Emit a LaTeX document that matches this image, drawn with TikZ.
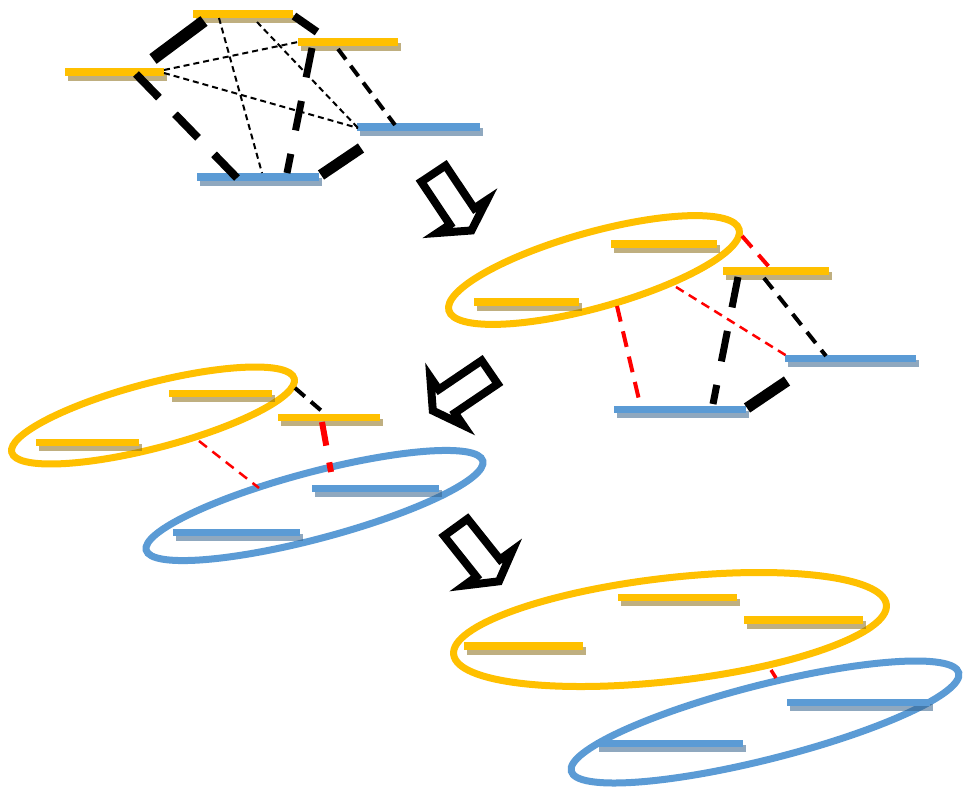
\documentclass[tikz,border=0pt]{standalone}
\usetikzlibrary{shadows}

\definecolor{barorange}{RGB}{255,192,0}
\definecolor{barblue}{RGB}{91,155,213}
\definecolor{shadeorange}{RGB}{140,111,24}
\definecolor{shadeblue}{RGB}{51,97,140}
\definecolor{linkred}{RGB}{255,0,0}

\tikzset{
  levelbar/.style={inner sep=0pt, minimum height=7.5pt, anchor=west, draw=none},
  obar/.style={levelbar, fill=barorange,
    drop shadow={shadow xshift=3pt, shadow yshift=-5pt, fill=shadeorange, opacity=0.55}},
  bbar/.style={levelbar, fill=barblue,
    drop shadow={shadow xshift=3pt, shadow yshift=-5pt, fill=shadeblue, opacity=0.55}},
  oring/.style={draw=barorange, line width=7pt},
  bring/.style={draw=barblue, line width=7pt},
  link/.style={line cap=butt},
  kthin/.style={link, draw=black, line width=2pt, dash pattern=on 6pt off 4pt},
  kmid/.style={link, draw=black, line width=4pt, dash pattern=on 13pt off 8pt},
  kthick/.style={link, draw=black, line width=7pt, dash pattern=on 30pt off 24pt},
  kheavy/.style={link, draw=black, line width=8pt, dash pattern=on 33pt off 23pt},
  ksolid/.style={link, draw=black},
  rthin/.style={link, draw=linkred, line width=2.5pt, dash pattern=on 9pt off 6pt},
  rmid/.style={link, draw=linkred, line width=4pt, dash pattern=on 16pt off 10pt},
  rthick/.style={link, draw=linkred, line width=6pt, dash pattern=on 24pt off 17pt},
  arrowline/.style={draw=black, fill=white, line width=16pt, line join=miter},
}

% hollow block arrow: origin (tail centre), half-width vector, axis vector
\newcommand\hollowarrow[6]{%
  \coordinate (ha1) at ({#1-(#3)},{#2-(#4)});
  \coordinate (ha2) at ({#1+(#3)},{#2+(#4)});
  \coordinate (ha3) at ({#1+(#3)+0.67*(#5)},{#2+(#4)+0.67*(#6)});
  \coordinate (ha4) at ({#1+2.42*(#3)+0.67*(#5)},{#2+2.42*(#4)+0.67*(#6)});
  \coordinate (ha5) at ({#1+(#5)},{#2+(#6)});
  \coordinate (ha6) at ({#1-2.42*(#3)+0.67*(#5)},{#2-2.42*(#4)+0.67*(#6)});
  \coordinate (ha7) at ({#1-(#3)+0.67*(#5)},{#2-(#4)+0.67*(#6)});
  \begin{scope}
    \clip (ha1)--(ha2)--(ha3)--(ha4)--(ha5)--(ha6)--(ha7)--cycle;
    \draw[arrowline] (ha1)--(ha2)--(ha3)--(ha4)--(ha5)--(ha6)--(ha7)--cycle;
  \end{scope}}

\begin{document}
\begin{tikzpicture}[x=1pt, y=-1pt]
\useasboundingbox[fill=white] (0,0) rectangle (963,787);

% ---------- group outlines ----------
\draw[oring, rotate around={15.6:(594,270)}] (594,270) ellipse [x radius=150.7pt, y radius=37.7pt];
\draw[oring, rotate around={14.65:(153,415.5)}] (153,415.5) ellipse [x radius=146pt, y radius=32.5pt];
\draw[bring, rotate around={14.87:(314.5,505.5)}] (314.5,505.5) ellipse [x radius=174.1pt, y radius=33.3pt];
\draw[oring, rotate around={6.57:(670,629.5)}] (670,629.5) ellipse [x radius=217.8pt, y radius=51.6pt];
\draw[bring, rotate around={14.25:(765,722)}] (765,722) ellipse [x radius=199.9pt, y radius=37.2pt];

% ---------- stage 1 levels ----------
\node[obar, minimum width=100pt] (a1) at (193,14) {};
\node[obar, minimum width=100pt] (b1) at (298,42) {};
\node[obar, minimum width=99pt]  (c1) at (65,72) {};
\node[bbar, minimum width=123pt] (d1) at (357,127) {};
\node[bbar, minimum width=122pt] (e1) at (197,177) {};

% ---------- stage 2 levels ----------
\node[obar, minimum width=106pt] (a2) at (611,244) {};
\node[obar, minimum width=105pt] (c2) at (474,302) {};
\node[obar, minimum width=106pt] (b2) at (723,271) {};
\node[bbar, minimum width=131pt] (d2) at (785,358.5) {};
\node[bbar, minimum width=132pt] (e2) at (614,409.5) {};

% ---------- stage 3 levels ----------
\node[obar, minimum width=103pt] (a3) at (169,393.5) {};
\node[obar, minimum width=103pt] (c3) at (36,442.5) {};
\node[obar, minimum width=102pt] (b3) at (278,417.5) {};
\node[bbar, minimum width=127pt] (d3) at (312,488.5) {};
\node[bbar, minimum width=127pt] (e3) at (173,532.5) {};

% ---------- stage 4 levels ----------
\node[obar, minimum width=119pt] (a4) at (618,597.5) {};
\node[obar, minimum width=119pt] (b4) at (744,620) {};
\node[obar, minimum width=119pt] (c4) at (464,646) {};
\node[bbar, minimum width=143pt] (d4) at (787,702.5) {};
\node[bbar, minimum width=147pt] (e4) at (596,743.5) {};

% ---------- stage 1 couplings ----------
\coordinate (s1ca) at (153,59);  \coordinate (s1cb) at (204,21);
\coordinate (s1ab) at (294,16);  \coordinate (s1ba) at (317,32);
\coordinate (s1ae) at (219,18);  \coordinate (s1ea) at (262,173);
\coordinate (s1ad) at (257,22);  \coordinate (s1da) at (358,128);
\coordinate (s1cbb) at (164,70); \coordinate (s1bc) at (298,42);
\coordinate (s1cd) at (164,73);  \coordinate (s1dc) at (358,128);
\coordinate (s1be) at (312,48);  \coordinate (s1eb) at (287,173);
\coordinate (s1bd) at (338,49);  \coordinate (s1db) at (395,125);
\coordinate (s1ce) at (136,74);  \coordinate (s1ec) at (237,178);
\coordinate (s1ed) at (321,175); \coordinate (s1de) at (361,148);

\draw[ksolid, line width=12pt] (s1ca) -- (s1cb);
\draw[ksolid, line width=8pt] (s1ab) -- (s1ba);
\draw[kthin] (s1ae) -- (s1ea);
\draw[kthin] (s1ad) -- (s1da);
\draw[kthin] (s1cbb) -- (s1bc);
\draw[kthin] (s1cd) -- (s1dc);
\draw[kthick] (s1be) -- (s1eb);
\draw[kmid] (s1bd) -- (s1db);
\draw[kheavy] (s1ce) -- (s1ec);
\draw[ksolid, line width=11pt] (s1ed) -- (s1de);

% ---------- stage 2 couplings ----------
\coordinate (s2gb) at (742,236); \coordinate (s2bg) at (770,268);
\coordinate (s2gd) at (676,287); \coordinate (s2dg) at (787,356);
\coordinate (s2ge) at (617,306); \coordinate (s2eg) at (640,404);
\coordinate (s2be) at (738,277); \coordinate (s2eb) at (713,404);
\coordinate (s2bd) at (764,278); \coordinate (s2db) at (826,356);
\coordinate (s2ed) at (747,408); \coordinate (s2de) at (787,381);

\draw[rmid, dash pattern=on 15pt off 10pt] (s2gb) -- (s2bg);
\draw[rthin] (s2gd) -- (s2dg);
\draw[rmid] (s2ge) -- (s2eg);
\draw[kthick, dash pattern=on 31pt off 24pt] (s2be) -- (s2eb);
\draw[kmid, dash pattern=on 14pt off 9pt] (s2bd) -- (s2db);
\draw[ksolid, line width=11pt] (s2ed) -- (s2de);

% ---------- stage 3 couplings ----------
\coordinate (s3gb) at (295,388); \coordinate (s3bg) at (324,413);
\coordinate (s3bh) at (322,422); \coordinate (s3hb) at (331,472);
\coordinate (s3gh) at (199,441); \coordinate (s3hg) at (259,488);

\draw[kmid] (s3gb) -- (s3bg);
\draw[rthick] (s3bh) -- (s3hb);
\draw[rthin, dash pattern=on 10pt off 7pt] (s3gh) -- (s3hg);

% ---------- stage 4 coupling ----------
\coordinate (s4gh) at (771,670); \coordinate (s4hg) at (776,678);
\draw[link, draw=linkred, line width=3.5pt] (s4gh) -- (s4hg);

% ---------- step arrows ----------
\hollowarrow{431.2}{170.3}{15.5}{-10.3}{42.8}{64}
\hollowarrow{493}{370}{10.3}{15}{-64}{43.3}
\hollowarrow{453.3}{524.2}{15}{-10.9}{48.4}{60.8}

\end{tikzpicture}
\end{document}
